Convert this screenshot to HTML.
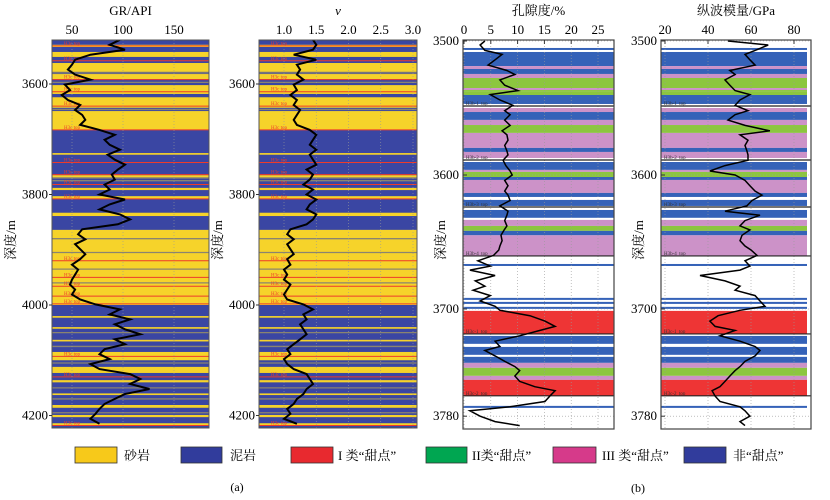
<!DOCTYPE html>
<html><head><meta charset="utf-8">
<style>
html,body{margin:0;padding:0;background:#fff;}
svg{display:block;font-family:"Liberation Serif","Noto Serif CJK SC","Noto Sans CJK SC",serif;}
</style></head>
<body>
<svg id="fig" width="830" height="500" viewBox="0 0 830 500" xmlns="http://www.w3.org/2000/svg">
  <g id="p1"></g>
  <g id="p2"></g>
  <g id="p3"></g>
  <g id="p4"></g>
  <g id="legend">
    <rect x="75" y="447" width="42" height="16" fill="#f7c91a" stroke="#333" stroke-width="0.8"/>
    <text x="124" y="460" font-size="13">砂岩</text>
    <rect x="181" y="447" width="41" height="16" fill="#313c9c" stroke="#333" stroke-width="0.8"/>
    <text x="230" y="460" font-size="13">泥岩</text>
    <rect x="291" y="447" width="42" height="16" fill="#e8292f" stroke="#333" stroke-width="0.8"/>
    <text x="338" y="460" font-size="13">I 类“甜点”</text>
    <rect x="426" y="447" width="41" height="16" fill="#00a651" stroke="#333" stroke-width="0.8"/>
    <text x="472" y="460" font-size="13">II类“甜点”</text>
    <rect x="553" y="447" width="43" height="16" fill="#d63a8a" stroke="#333" stroke-width="0.8"/>
    <text x="602" y="460" font-size="13">III 类“甜点”</text>
    <rect x="684" y="447" width="42" height="16" fill="#313c9c" stroke="#333" stroke-width="0.8"/>
    <text x="733" y="460" font-size="13">非“甜点”</text>
  </g>
  <text x="237" y="491" font-size="12" text-anchor="middle">(a)</text>
  <text x="638" y="492" font-size="12" text-anchor="middle">(b)</text>
</svg>
<script>
// ---------- data ----------
const wellDepthA = [3520,3529,3538,3547,3556,3565,3574,3583,3592,3601,3611,3620,3629,3638,3647,3656,3665,3674,3683,3692,3701,3710,3719,3728,3737,3746,3755,3764,3773,3782,3791,3800,3809,3818,3827,3836,3845,3854,3863,3872,3881,3890,3899,3908,3917,3927,3936,3945,3954,3963,3972,3981,3990,3999,4008,4017,4026,4035,4044,4053,4062,4071,4080,4089,4098,4107,4116,4125,4134,4143,4152,4161,4170,4179,4188,4197,4206,4215];
const grValues = [97,87,102,68,53,50,46,53,68,43,48,40,46,58,53,60,63,58,77,92,82,87,97,85,92,102,95,89,92,82,87,77,102,87,77,97,107,95,60,56,63,53,58,63,58,50,56,53,50,48,53,50,58,73,97,87,107,92,102,117,92,102,82,77,87,68,77,107,117,107,126,102,92,82,77,73,68,77];
const poissonValues = [1.45,1.5,1.45,1.15,1.5,1.2,1.25,1.2,1.3,1.15,1.2,1.1,1.2,1.15,1.25,1.2,1.15,1.2,1.4,1.5,1.45,1.4,1.5,1.4,1.45,1.5,1.35,1.45,1.4,1.3,1.45,1.35,1.5,1.4,1.35,1.5,1.45,1.35,1.1,1.05,1.15,1.05,1.1,1.15,1.05,1.1,1.0,1.05,1.0,1.1,1.05,1.0,1.05,1.3,1.45,1.3,1.35,1.25,1.3,1.35,1.25,1.15,1.05,1.1,1.0,1.05,1.15,1.35,1.4,1.45,1.35,1.3,1.2,1.15,1.05,1.1,1.0,1.2];
const grTicks = [50,100,150];
const poissonTicks = [1.0,1.5,2.0,2.5,3.0];
const depthTicksA = [3600,3800,4000,4200];
// lithology intervals (sandstone) over mudstone background
const sandTops = [3529,3542,3562,3582,3602,3624,3649,3725,3765,3788,3803,3833,3864,4020,4040,4063,4085,4112,4136,4160,4181,4199,4214];
const sandBases = [3533,3551,3578,3591,3618,3643,3683,3728,3770,3792,3808,3839,4000,4023,4043,4066,4100,4123,4140,4163,4186,4203,4219];
const grayLineDepths = [3580,3597,3646,3770,3775,3880,3905,3935,3960,4050,4075,4105,4150,4170,4195];
const redLineDepths = [3531,3558,3592,3614,3640,3683,3742,3764,3782,3808,3920,3950,3966,3984,3998,4093,4130,4218];

const wellDepthB = [3500,3503,3507,3510,3514,3518,3522,3525,3529,3533,3537,3540,3544,3548,3552,3555,3559,3563,3567,3570,3574,3578,3582,3585,3589,3593,3597,3600,3604,3608,3612,3615,3619,3623,3627,3630,3634,3638,3641,3645,3649,3653,3656,3660,3664,3668,3671,3675,3679,3683,3686,3690,3694,3698,3701,3705,3709,3713,3716,3720,3724,3728,3731,3735,3739,3743,3746,3750,3754,3758,3761,3765,3769,3773,3776,3780,3784,3787];
const porosityValues = [3.9,3,3.9,7.1,5.8,4.5,8,9.5,6.7,7.6,10.1,4.9,6.7,9.1,7.6,8.6,7.6,8.6,7.1,8,8.2,7.6,8,8.2,7.3,7.8,8.6,9,7.6,8.2,7.6,8.2,8.6,6.7,8.2,8,7.6,8,7.5,6.9,7.1,6.7,6.5,5.5,2.6,4.9,1.1,5.8,2.1,3.9,1.7,4.9,3,5.8,6.7,12.3,15.1,17,14.2,10.4,5.8,6.7,3.9,5.8,7.6,9.5,10.4,9.5,10.4,13.2,17,16,15.1,8.6,1.1,3,5.8,10.4];
const modulusValues = [49.3,68,61.9,57.2,59.5,61.9,50.2,52.6,47.9,50.2,52.6,59.5,54.9,52.6,58.6,52.6,49.3,57.2,68.8,54.9,58.6,57.2,58.1,58.6,58.6,47.9,40.9,52.6,57.2,59.5,61.9,65.1,60.5,58.1,47.9,64.2,57.2,54.9,59.5,55.8,54.9,57.2,60,62.8,57.2,59.5,54.9,36.3,47.9,54.9,52.6,61.9,64.2,66.5,54.9,44.7,40.9,43.3,52.6,45.6,54.9,61.9,64.2,61.9,57.2,54.9,52.6,50.2,47.9,45.6,41.9,43.3,45.6,54.9,57.2,59.5,54.9,57.2];
const porosityTicks = [0,5,10,15,20,25];
const modulusTicks = [20,40,60,80];
const depthTicksB = [3500,3600,3700,3780];
// sweet-spot class intervals: N = non, 1 = class I, 2 = class II, 3 = class III, W = white gap
const zoneTops = [3505.2,3506.7,3508.2,3518.7,3520.9,3524.6,3527.6,3530.6,3535.1,3536.6,3538.0,3540.3,3550.0,3553.0,3558.9,3562.7,3568.6,3579.8,3582.8,3590.3,3596.2,3597.7,3601.5,3603.7,3613.4,3616.4,3618.6,3626.1,3632.0,3633.5,3638.0,3641.7,3645.0,3666.4,3691.7,3694.7,3698.4,3701.4,3720.1,3728.3,3735.7,3740.2,3743.9,3749.9,3752.9,3772.3];
const zoneBases = [3506.7,3508.2,3518.7,3520.9,3524.6,3527.6,3530.6,3535.1,3536.6,3538.0,3540.3,3547.0,3553.0,3558.9,3562.7,3568.6,3579.8,3582.8,3587.3,3596.2,3597.7,3601.5,3603.7,3613.4,3616.4,3618.6,3623.1,3632.0,3633.5,3638.0,3641.7,3645.0,3660.4,3667.9,3693.2,3696.2,3699.9,3718.6,3726.0,3734.2,3740.2,3743.9,3749.9,3752.9,3764.8,3773.8];
const zoneClass = ["N","W","N","3","N","3","2","2","3","2","2","N","3","N","3","2","3","N","3","N","3","2","N","3","N","W","N","N","W","3","2","N","3","N","N","N","N","1","N","N","N","3","2","3","1","N"];
const markerDepthsB = [3548.5,3588.8,3623.9,3660.4,3718.6,3764.8];
const markerNamesB = ["H3b-1_top","H3b-2_top","H3b-3_top","H3b-4_top","H3c-1_top","H3c-2_top"];

// ---------- helpers ----------
const NS = "http://www.w3.org/2000/svg";
function mk(parent, tag, attrs, txt){
  const e = document.createElementNS(NS, tag);
  for (const k in attrs) e.setAttribute(k, attrs[k]);
  if (txt !== undefined) e.textContent = txt;
  parent.appendChild(e);
  return e;
}
const P1 = {x0:52, x1:209, y0:40, y1:428};
const P2 = {x0:259, x1:417, y0:40, y1:428};
const P3 = {x0:463, x1:614, y0:40, y1:429};
const P4 = {x0:661, x1:811, y0:40, y1:429, bandRight:807};
const yA = d => 84 + (d - 3600) * 0.5525;
const yB = d => 41 + (d - 3500) * 1.34;
const xGR = v => 72 + (v - 50) * 1.02;
const xPoi = v => 284 + (v - 1) * 64.5;
const xPor = v => 464 + v * 5.36;
const xMod = v => 665 + (v - 20) * 2.15;

function clip(g, P, id){
  const defs = mk(g, "defs", {});
  const cp = mk(defs, "clipPath", {id:id});
  mk(cp, "rect", {x:P.x0, y:P.y0, width:P.x1-P.x0, height:P.y1-P.y0});
  const inner = mk(g, "g", {"clip-path":"url(#"+id+")"});
  return inner;
}

function trackA(gid, P, xf, ticks, vals, title, titleItalic, clipId, tickFmt){
  const g = document.getElementById(gid);
  const c = clip(g, P, clipId);
  const bg = mk(c, "rect", {x:P.x0, y:P.y0, width:P.x1-P.x0, height:P.y1-P.y0, fill:"#3a46a3"});
  
  
  for (let i=0;i<sandTops.length;i++){
    const r = mk(c, "rect", {x:P.x0, y:yA(sandTops[i]), width:P.x1-P.x0, height:Math.max(1, yA(sandBases[i])-yA(sandTops[i])), fill:"#f6d32a"});
    
    
  }
  for (const d of grayLineDepths){
    const l = mk(c, "line", {x1:P.x0, x2:P.x1, y1:yA(d), y2:yA(d), stroke:"#8a8470", "stroke-width":1.3});
    
    
  }
  for (const d of redLineDepths){
    const l = mk(c, "line", {x1:P.x0, x2:P.x1, y1:yA(d), y2:yA(d), stroke:"#ee3b2a", "stroke-width":1});
    
    
    const t = mk(c, "text", {x:P.x0+12, y:yA(d)-1, "font-size":5, fill:"#ee3b2a"}, "H3c top");
    
    
  }
  for (const t of ticks){
    const gl = mk(c, "line", {x1:xf(t), x2:xf(t), y1:P.y0, y2:P.y1, stroke:"#999", "stroke-width":0.6, "stroke-dasharray":"1,2"});
    
    
  }
  const pts = vals.map((v,i)=> xf(v).toFixed(1)+","+yA(wellDepthA[i]).toFixed(1)).join(" ");
  const pl = mk(c, "polyline", {points:pts, fill:"none", stroke:"#000", "stroke-width":2, "stroke-linejoin":"miter"});
  
  
  const fr = mk(g, "rect", {x:P.x0, y:P.y0, width:P.x1-P.x0, height:P.y1-P.y0, fill:"none", stroke:"#555", "stroke-width":1});
  
  
  for (const t of ticks){
    const tl = mk(g, "text", {x:xf(t), y:34, "font-size":13, "text-anchor":"middle"}, tickFmt(t));
    
    
  }
  for (const d of depthTicksA){
    const tl = mk(g, "text", {x:P.x0-4, y:yA(d)+4, "font-size":13, "text-anchor":"end"}, String(d));
    
    
    const tk = mk(g, "line", {x1:P.x0-3, x2:P.x0, y1:yA(d), y2:yA(d), stroke:"#333"});
    
    
  }
  const tt = mk(g, "text", {x:(P.x0+P.x1)/2, y:15, "font-size":13, "text-anchor":"middle", "font-style": titleItalic?"italic":"normal"}, title);
  
  
  const yt = mk(g, "text", {x:0, y:0, "font-size":13, "text-anchor":"middle", transform:"translate("+(P.x0-37)+",240) rotate(-90)"}, "深度/m");
  
  
}

const zoneColor = {N:"#3562b8", "1":"#ee3535", "2":"#8cc63f", "3":"#cc92c8", W:"#ffffff"};

function trackB(gid, P, xf, ticks, vals, title, clipId){
  const g = document.getElementById(gid);
  const c = clip(g, P, clipId);
  const right = P.bandRight || P.x1;
  mk(c, "rect", {x:P.x0, y:P.y0, width:P.x1-P.x0, height:P.y1-P.y0, fill:"#fff"});
  for (let i=0;i<zoneTops.length;i++){
    const r = mk(c, "rect", {x:P.x0, y:yB(zoneTops[i]), width:right-P.x0, height:Math.max(1, yB(zoneBases[i])-yB(zoneTops[i])), fill:zoneColor[zoneClass[i]]});
    
    
  }
  for (const t of ticks){
    const gl = mk(c, "line", {x1:xf(t), x2:xf(t), y1:P.y0, y2:P.y1, stroke:"#999", "stroke-width":0.6, "stroke-dasharray":"1,2"});
    
    
  }
  for (const d of depthTicksB){
    const gl = mk(c, "line", {x1:P.x0, x2:P.x1, y1:yB(d), y2:yB(d), stroke:"#999", "stroke-width":0.6, "stroke-dasharray":"1,2"});
    
    
  }
  for (let i=0;i<markerDepthsB.length;i++){
    const l = mk(c, "line", {x1:P.x0, x2:P.x1, y1:yB(markerDepthsB[i]), y2:yB(markerDepthsB[i]), stroke:"#222", "stroke-width":1.2});
    
    
    const t = mk(c, "text", {x:P.x0+3, y:yB(markerDepthsB[i])-1, "font-size":5, fill:"#333"}, markerNamesB[i]);
    
    
  }
  const pts = vals.map((v,i)=> xf(v).toFixed(1)+","+yB(wellDepthB[i]).toFixed(1)).join(" ");
  const pl = mk(c, "polyline", {points:pts, fill:"none", stroke:"#000", "stroke-width":1.5});
  
  
  const fr = mk(g, "rect", {x:P.x0, y:P.y0, width:P.x1-P.x0, height:P.y1-P.y0, fill:"none", stroke:"#444", "stroke-width":1.2});
  
  
  for (const t of ticks){
    const tl = mk(g, "text", {x:xf(t), y:34, "font-size":13, "text-anchor":"middle"}, String(t));
    
    
    const tk = mk(g, "line", {x1:xf(t), x2:xf(t), y1:P.y0, y2:P.y0+4, stroke:"#333"});
    
    
  }
  for (const d of depthTicksB){
    const tl = mk(g, "text", {x:P.x0-4, y:yB(d)+4, "font-size":13, "text-anchor":"end"}, String(d));
    
    
    const tk = mk(g, "line", {x1:P.x0, x2:P.x0+4, y1:yB(d), y2:yB(d), stroke:"#333"});
    
    
  }
  const tt = mk(g, "text", {x:(P.x0+P.x1)/2, y:15, "font-size":13, "text-anchor":"middle"}, title);
  
  
  const yt = mk(g, "text", {x:0, y:0, "font-size":13, "text-anchor":"middle", transform:"translate("+(P.x0-18)+",240) rotate(-90)"}, "深度/m");
  
  
}

trackA("p1", P1, xGR, grTicks, grValues, "GR/API", false, "c1", t=>String(t));
trackA("p2", P2, xPoi, poissonTicks, poissonValues, "v", true, "c2", t=>t.toFixed(1));
trackB("p3", P3, xPor, porosityTicks, porosityValues, "孔隙度/%", "c3");
trackB("p4", P4, xMod, modulusTicks, modulusValues, "纵波模量/GPa", "c4");
</script>
</body></html>
